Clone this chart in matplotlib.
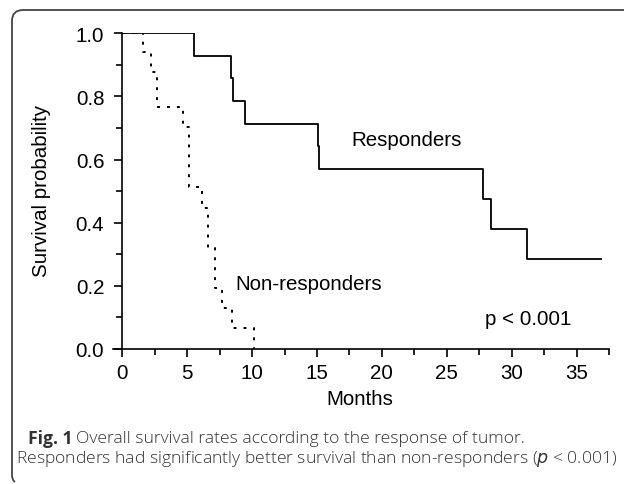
import matplotlib
matplotlib.use("Agg")
import matplotlib.pyplot as plt
from matplotlib.path import Path
from matplotlib.patches import PathPatch
from matplotlib.ticker import MultipleLocator

# Kaplan-Meier steps (months, survival)
resp_t = [0, 5.49, 8.41, 8.52, 9.49, 15.08, 15.18, 27.76, 28.38, 31.15, 36.86]
resp_s = [1.0, 0.929, 0.857, 0.786, 0.714, 0.643, 0.571, 0.476, 0.381, 0.286, 0.286]

nonresp_t = [0, 1.57, 2.2, 2.7, 4.65, 5.15, 6.15, 6.57, 7.15, 7.67, 8.46, 10.13]
nonresp_s = [1.0, 0.942, 0.876, 0.766, 0.702, 0.513, 0.446, 0.321, 0.192, 0.129, 0.066, 0.0]

W, H = 624, 485
fig = plt.figure(figsize=(W / 100, H / 100), dpi=100)
plt.rcParams['font.family'] = ['Liberation Sans', 'DejaVu Sans']
fs = 14.8

ax = fig.add_axes([112.6 / W, 1 - 350 / H, (609 - 112.6) / W, (350 - 34.3) / H])
ax.step(resp_t, resp_s, where='post', color='black', lw=1.3)
ax.step(nonresp_t, nonresp_s, where='post', color='black', lw=1.4,
        linestyle=(0, (1.5, 3.6)))

ax.set_xlim(-0.75, 37.5)
ax.set_ylim(0, 1.0)
ax.spines['top'].set_visible(False)
ax.spines['right'].set_visible(False)
ax.spines['left'].set_position(('data', 0))
ax.spines['left'].set_linewidth(1.2)
ax.spines['bottom'].set_linewidth(1.2)

ax.xaxis.set_major_locator(MultipleLocator(5))
ax.xaxis.set_minor_locator(MultipleLocator(2.5))
ax.yaxis.set_major_locator(MultipleLocator(0.2))
ax.yaxis.set_minor_locator(MultipleLocator(0.1))
ax.tick_params(which='major', direction='out', length=6, width=1.2, labelsize=fs)
ax.tick_params(axis='x', which='major', pad=4)
ax.tick_params(axis='y', which='major', pad=7)
ax.tick_params(which='minor', direction='out', length=4, width=1.2)
ax.set_yticks([0, 0.2, 0.4, 0.6, 0.8, 1.0])
ax.set_yticklabels(['0.0', '0.2', '0.4', '0.6', '0.8', '1.0'])

fig.text(360 / W, 1 - 400 / H, 'Months', ha='center', va='center', fontsize=fs)
fig.text(41.7 / W, 1 - 191 / H, 'Survival probability', rotation=90,
         ha='center', va='center', fontsize=fs)

ax.text(21.9, 0.665, 'Responders', ha='center', va='center', fontsize=fs)
ax.text(14.35, 0.209, 'Non-responders', ha='center', va='center', fontsize=fs)
ax.text(31.26, 0.098, 'p < 0.001', ha='center', va='center', fontsize=fs)

# caption
cap_color = '#333333'
cap_font = ['Open Sans', 'DejaVu Sans']
t1 = fig.text(28 / W, 1 - 439 / H, 'Fig. 1', fontsize=12.6, fontweight='bold',
              family=cap_font, color=cap_color, va='center')
fig.canvas.draw()
bb = t1.get_window_extent()
fig.text((bb.x1 + 4) / W, 1 - 439 / H,
         'Overall survival rates according to the response of tumor.',
         fontsize=12.6, family=cap_font, fontweight='light',
         color=cap_color, va='center')
fig.text(16 / W, 1 - 459 / H,
         'Responders had significantly better survival than non-responders ($\\it{p}$ < 0.001)',
         fontsize=12.6, family=cap_font, fontweight='light',
         color=cap_color, va='center')

# frame around the figure: left edge and top edge with rounded corners
pts = [(15, 483), (12, 481), (12, 476), (12, 22), (12, 11), (23, 11), (W, 11)]
codes = [Path.MOVETO, Path.CURVE3, Path.CURVE3, Path.LINETO,
         Path.CURVE3, Path.CURVE3, Path.LINETO]
verts = [(x / W, 1 - y / H) for x, y in pts]
fig.patches.append(PathPatch(Path(verts, codes), transform=fig.transFigure,
                             fill=False, edgecolor='#444444', lw=1.3))

fig.savefig('out.png', dpi=100)
